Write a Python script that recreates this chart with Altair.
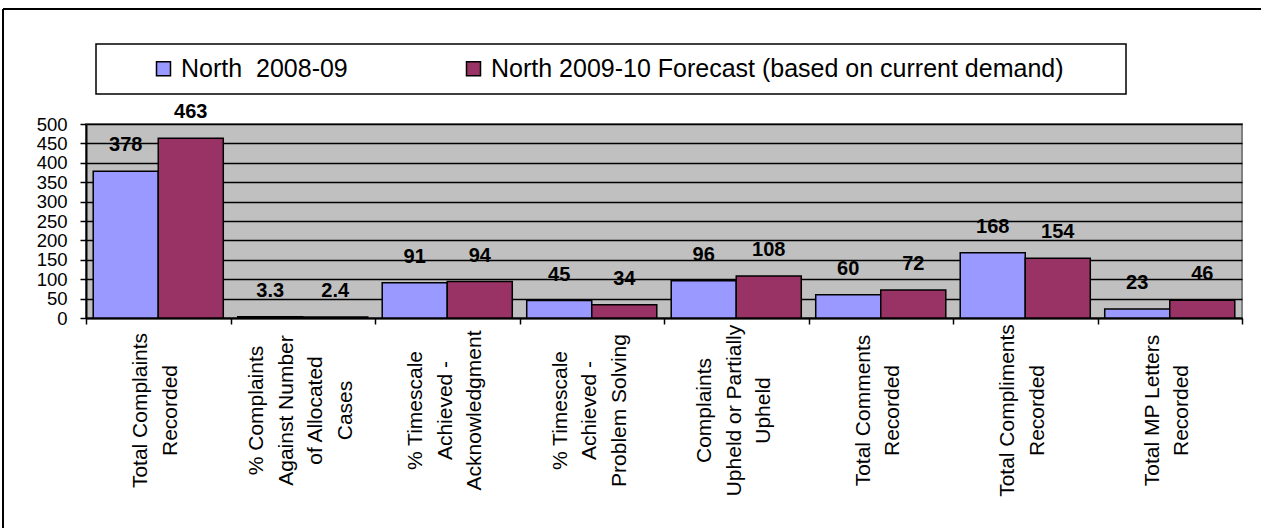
import altair as alt
import pandas as pd

categories = [
    "Total Complaints|Recorded",
    "% Complaints|Against Number|of Allocated|Cases",
    "% Timescale|Achieved -|Acknowledgment",
    "% Timescale|Achieved -|Problem Solving",
    "Complaints|Upheld or Partially|Upheld",
    "Total Comments|Recorded",
    "Total Compliments|Recorded",
    "Total MP Letters|Recorded",
]
series_names = ["North  2008-09", "North 2009-10 Forecast (based on current demand)"]
north_2008_09 = [378, 3.3, 91, 45, 96, 60, 168, 23]
north_2009_10 = [463, 2.4, 94, 34, 108, 72, 154, 46]
y_ticks = [0, 50, 100, 150, 200, 250, 300, 350, 400, 450, 500]
colors = ["#9999FF", "#993366"]

rows = []
for s, vals in zip(series_names, [north_2008_09, north_2009_10]):
    for c, v in zip(categories, vals):
        rows.append({"cat": c, "series": s, "value": v, "label": f"{v:g}"})
df = pd.DataFrame(rows)

FONT = "Liberation Sans"
NBSP = "\u00a0"
NLINES = "length(split(datum.label, '|'))"

x_axis = alt.Axis(
    title=None,
    labelAngle=-90,
    labelAlign="center",
    labelBaseline="middle",
    labelExpr="split(datum.label, '|')",
    labelFontSize=21,
    labelLineHeight=29.5,
    labelPadding=86,
    labelOffset={
        "condition": [
            {"test": NLINES + " == 4", "value": -46},
            {"test": NLINES + " == 3", "value": -31.5},
        ],
        "value": -17.5,
    },
    labelOverlap=False,
    labelFlush=False,
    labelLimit=0,
    labelColor="black",
    labelFont=FONT,
    tickBand="extent",
    tickSize=6,
    tickColor="black",
    tickWidth=1.5,
    domainColor="black",
    domainWidth=2,
)
y_axis = alt.Axis(
    title=None,
    values=y_ticks,
    labelOverlap=False,
    labelFontSize=18.5,
    labelFont=FONT,
    labelColor="black",
    labelPadding=13,
    tickSize=6,
    tickColor="black",
    tickWidth=1.5,
    domainColor="black",
    domainWidth=2,
    grid=True,
    gridColor="black",
    gridWidth=1.5,
    gridOpacity=1,
)

x_enc = alt.X("cat:N", sort=categories,
              scale=alt.Scale(paddingInner=0, paddingOuter=0), axis=x_axis)
xoff_enc = alt.XOffset("series:N", sort=series_names,
                       scale=alt.Scale(paddingOuter=0.111, paddingInner=0))
y_enc = alt.Y("value:Q", scale=alt.Scale(domain=[0, 500], nice=False), axis=y_axis)

legend_expr = (
    "datum.label == 'North  2008-09' ? replace(datum.label, '  ', ' " + NBSP + "') : datum.label"
)

bars = alt.Chart(df).mark_bar(stroke="black", strokeWidth=1.5).encode(
    x=x_enc,
    xOffset=xoff_enc,
    y=y_enc,
    color=alt.Color(
        "series:N",
        sort=series_names,
        scale=alt.Scale(domain=series_names, range=colors),
        legend=alt.Legend(
            title=NBSP,
            titleOrient="right",
            titlePadding=50,
            titleFontSize=25,
            orient="none",
            legendX=10,
            legendY=-80,
            direction="horizontal",
            strokeColor="black",
            fillColor="white",
            padding=12,
            symbolType="square",
            symbolSize=196,
            symbolStrokeColor="black",
            symbolStrokeWidth=1.5,
            symbolOpacity=1,
            symbolOffset=43,
            labelOffset=5,
            labelFontSize=25,
            labelFont=FONT,
            labelColor="black",
            labelLimit=0,
            columnPadding=70,
            labelExpr=legend_expr,
        ),
    ),
)

labels = alt.Chart(df).mark_text(
    dy=-26, fontWeight="bold", fontSize=20, font=FONT, baseline="middle", color="black"
).encode(
    x=x_enc,
    xOffset=xoff_enc,
    y=y_enc,
    text="label:N",
)

frame_data = alt.Data(values=[{}])
frame_top = alt.Chart(frame_data).mark_rule(color="black", strokeWidth=2).encode(
    x=alt.value(-83), x2=alt.value(1175), y=alt.value(-115)
)
frame_left = alt.Chart(frame_data).mark_rule(color="black", strokeWidth=2).encode(
    x=alt.value(-83), y=alt.value(-115), y2=alt.value(404)
)

chart = alt.layer(frame_top, frame_left, bars, labels).properties(
    width=1156,
    height=194,
    autosize=alt.AutoSizeParams(type="none"),
    padding={"left": 86, "top": 124, "right": 19, "bottom": 210},
    background="white",
).configure(font=FONT).configure_view(
    stroke="#808080", strokeWidth=2, fill="#C0C0C0"
).configure_legend(strokeWidth=1.5)

chart.save("out.html", embed_options={"renderer": "svg", "actions": False})
